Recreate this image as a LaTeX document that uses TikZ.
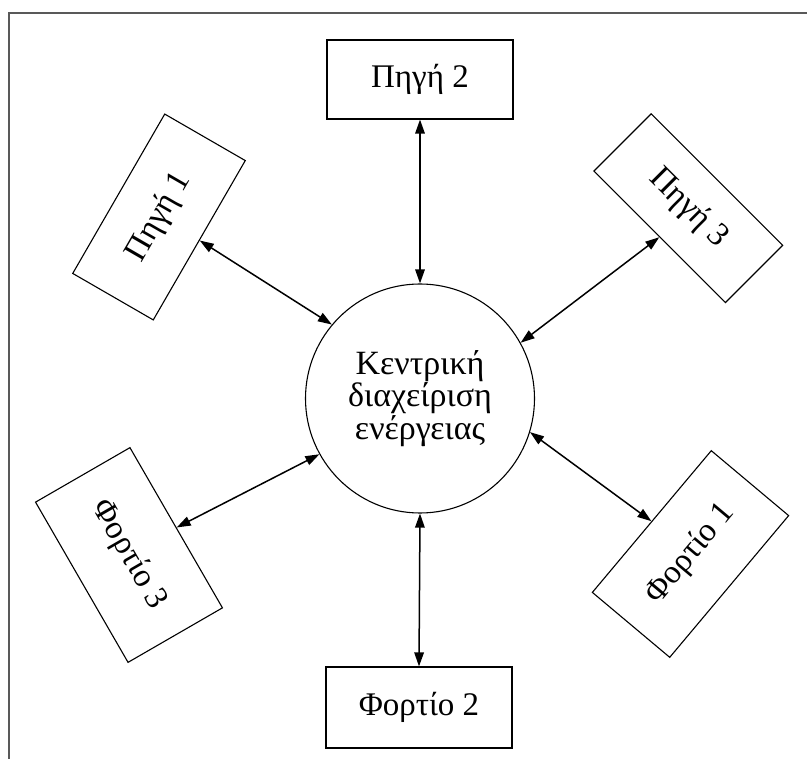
\documentclass[tikz,border=0pt]{standalone}
\usepackage{fontspec}
\setmainfont{Liberation Serif}
\usetikzlibrary{arrows.meta}
\begin{document}
\begin{tikzpicture}[x=1pt,y=-1pt,
  blockbox/.style={draw, line width=1.1pt, rectangle, inner sep=0pt,
    font=\fontsize{33}{36}\selectfont},
  hub/.style={draw, line width=1.1pt, circle, minimum size=229pt, inner sep=0pt,
    align=center, font=\fontsize{34}{32.5}\selectfont},
  link/.style={line width=1.5pt,
    {Triangle[length=14pt,width=9.5pt]}-{Triangle[length=14pt,width=9.5pt]}},
  frameline/.style={line width=2pt, draw=black!65}]
\useasboundingbox (0,0) rectangle (807,759);
\clip (0,0) rectangle (807,759);
% outer frame (runs past the right and bottom edges)
\draw[frameline] (8.5,13) rectangle (840,800);

% central energy management
\node[hub] (c) at (420,398.5) {Κεντρική\\διαχείριση\\ενέργειας};

% sources
\node[blockbox, minimum width=186pt, minimum height=79pt] (p2) at (420,79.5) {Πηγή 2};
\node[blockbox, minimum width=184pt, minimum height=93pt, rotate=60] (p1) at (159,217) {Πηγή 1};
\node[blockbox, minimum width=186pt, minimum height=81pt, rotate=-45] (p3) at (688.3,208.2) {Πηγή 3};

% loads
\node[blockbox, minimum width=186pt, minimum height=81pt] (f2) at (419,707.5) {Φορτίο 2};
\node[blockbox, minimum width=185pt, minimum height=101pt, rotate=50] (f1) at (690.5,554) {Φορτίο 1};
\node[blockbox, minimum width=185pt, minimum height=109pt, rotate=-60] (f3) at (129,555) {Φορτίο 3};

% bidirectional links
\draw[link] (p1.south) -- (c.140);
\draw[link] (p2.south) -- (c.north);
\draw[link] (p3.south) -- (c.29);
\draw[link] (f1.north) -- (c.-17);
\draw[link] (c.south) -- (f2.north);
\draw[link] (f3.north) -- (c.209);
\end{tikzpicture}
\end{document}
